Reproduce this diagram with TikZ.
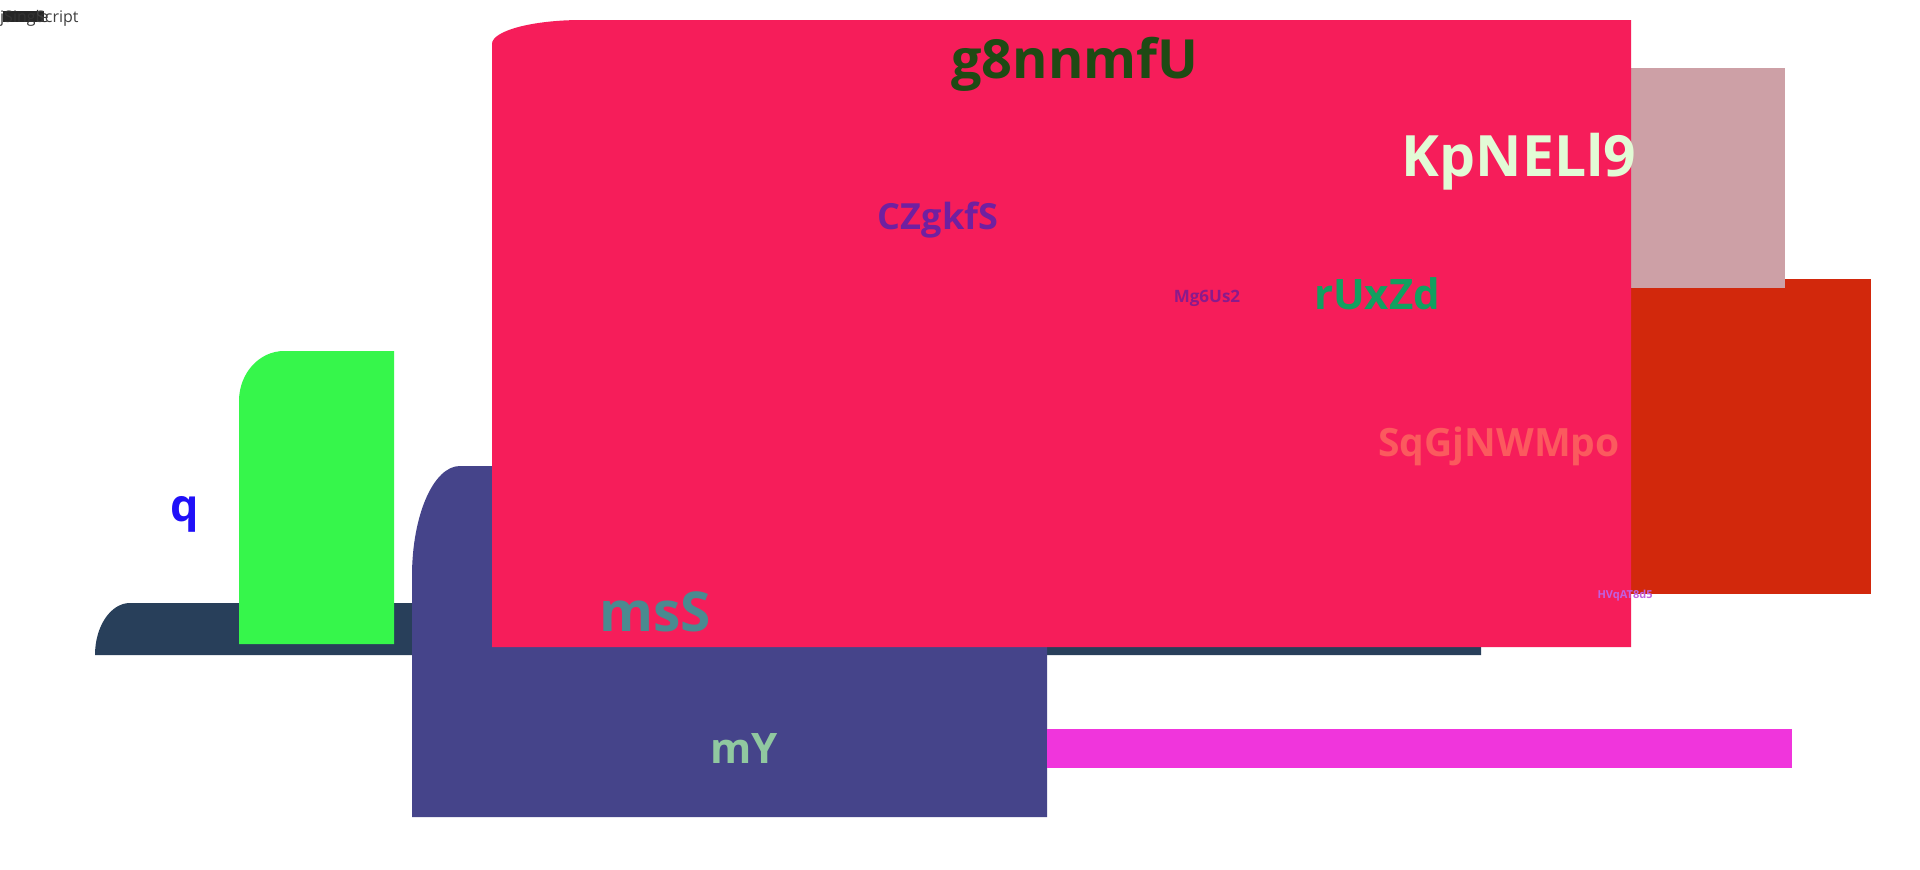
\documentclass[tikz,border=0pt]{standalone}
\usepackage{fontspec}
\setmainfont{Open Sans}
\definecolor{cpink}{HTML}{F61D5A}
\definecolor{cnavy}{HTML}{283F5A}
\definecolor{cpurple}{HTML}{45448A}
\definecolor{cgreen}{HTML}{36F64B}
\definecolor{crose}{HTML}{CDA0A6}
\definecolor{cred}{HTML}{D2280C}
\definecolor{cmag}{HTML}{F035DC}
\definecolor{tdkgreen}{HTML}{1F4A14}
\definecolor{tpurple}{HTML}{7020A0}
\definecolor{tlight}{HTML}{E2FBD6}
\definecolor{tgreen}{HTML}{12A060}
\definecolor{tplum}{HTML}{8B1A8B}
\definecolor{tsalmon}{HTML}{FB5A5E}
\definecolor{tlav}{HTML}{C060E0}
\definecolor{tteal}{HTML}{4A8A90}
\definecolor{tmint}{HTML}{90C8A0}
\definecolor{tblue}{HTML}{2010F8}
\tikzset{
  lbl/.style={anchor=base, inner sep=0pt, font=\bfseries\fontsize{#1}{#1}\selectfont},
  tiny/.style={anchor=base west, inner sep=0pt, font=\fontsize{16}{16}\selectfont},
}
\newcommand{\cornerbox}[7]{% x0 y0 x1 y1 rx ry color
  \fill[#7] (#1,#4) -- (#1,#2+#6) .. controls (#1,#2+0.448*#6) and (#1+0.448*#5,#2) .. (#1+#5,#2) -- (#3,#2) -- (#3,#4) -- cycle;
}
\begin{document}
\begin{tikzpicture}[x=1pt,y=-1pt]
\useasboundingbox (0,0) rectangle (1920,870);
\fill[white] (0,0) rectangle (1920,870);
% shapes
\cornerbox{95}{603}{1481}{655}{35}{52}{cnavy}
\cornerbox{239}{351}{394}{644}{45}{50}{cgreen}
\cornerbox{412}{466}{1047}{817}{48}{110}{cpurple}
\fill[cmag] (1047,729) rectangle (1792,768);
\fill[cred] (1600,279) rectangle (1871,594);
\fill[crose] (1600,68) rectangle (1785,288);
\cornerbox{492}{20}{1631}{647}{90}{24}{cpink}
% top-left jumble
\fill[black!85] (3,11) rectangle (44,22);
\node[tiny, text=black!80] (t1) at (0,22) {jSingle};
\node[tiny, text=black!75] (t2) at (36,22) {Script};
% labels
\node[lbl=54, text=tdkgreen] (a) at (1075,78) {g8nnmfU};
\node[lbl=36, text=tpurple] (b) at (938,229) {CZgkfS};
\node[lbl=57, text=tlight] (c) at (1519,176) {KpNELl9};
\node[lbl=42, text=tgreen] (d) at (1377,309) {rUxZd};
\node[lbl=17, text=tplum] (e) at (1207,302) {Mg6Us2};
\node[lbl=39, text=tsalmon] (f) at (1499,456) {SqGjNWMpo};
\node[lbl=11, text=tlav] (g) at (1625,598) {HVqAT8d5};
\node[lbl=55, text=tteal] (h) at (655,631) {msS};
\node[lbl=42, text=tmint] (i) at (744,763) {mY};
\node[lbl=45, text=tblue] (j) at (185,521) {q};
\end{tikzpicture}
\end{document}
